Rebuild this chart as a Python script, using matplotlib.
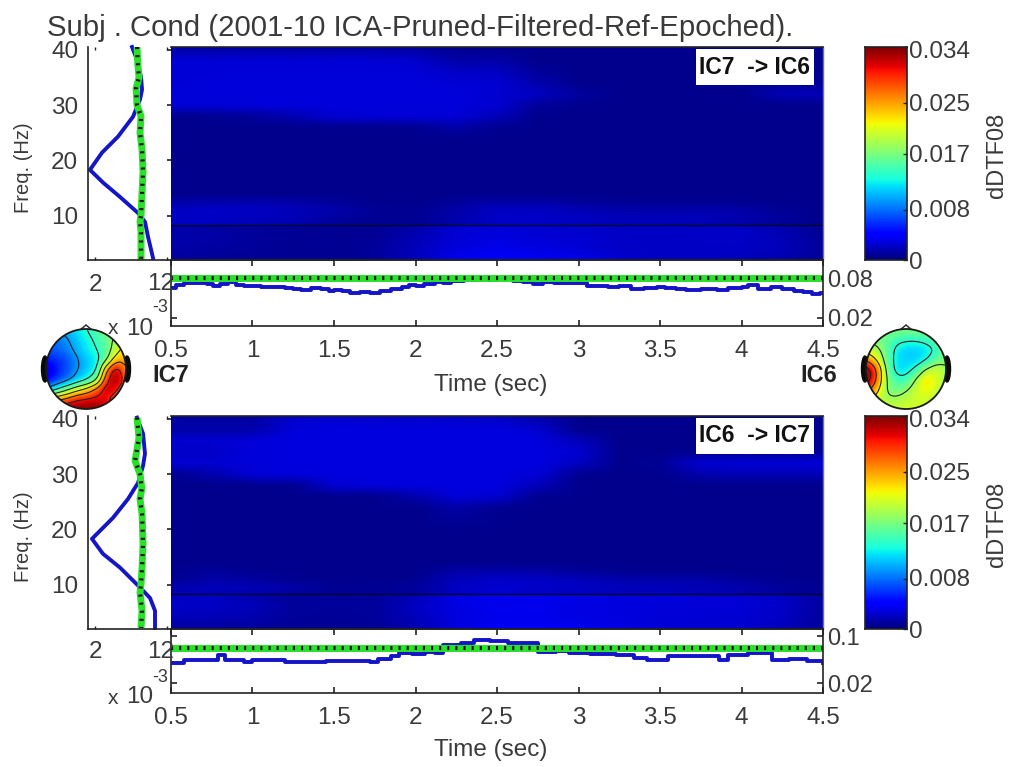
import numpy as np
import matplotlib
matplotlib.use("Agg")
import matplotlib.pyplot as plt
from matplotlib.patches import Circle, Ellipse, Polygon, Rectangle

W, H = 1012, 767
plt.rcParams['font.family'] = ['Liberation Sans', 'DejaVu Sans']
TXT = '#3a3a3a'
AX = '#222222'

# ---------- data ----------
times = [0.5, 0.75, 1, 1.25, 1.5, 1.75, 2, 2.25, 2.5, 2.75, 3, 3.25, 3.5, 3.75, 4, 4.25, 4.5]
freqs = [2, 4, 6, 8.2, 8.4, 9.5, 11, 12.5, 14, 20, 24, 26, 28, 30, 32, 34, 36, 38, 40.5]
# dDTF08 values in units of 1e-4; rows = freqs, columns = times
tf_top = [
 [8, 7, 7, 6, 6, 8, 18, 34, 38, 36, 32, 24, 20, 20, 18, 14, 7],
 [12, 10, 8, 6, 6, 9, 18, 28, 32, 30, 26, 22, 20, 20, 20, 18, 8],
 [14, 12, 8, 7, 6, 7, 16, 26, 28, 26, 24, 22, 20, 22, 22, 17, 7],
 [12, 10, 9, 7, 6, 6, 12, 24, 26, 24, 22, 20, 20, 20, 20, 14, 6],
 [20, 20, 18, 14, 8, 6, 6, 14, 20, 20, 18, 16, 16, 15, 12, 7, 4],
 [20, 20, 18, 16, 10, 6, 6, 14, 22, 22, 20, 18, 18, 18, 14, 8, 4],
 [20, 22, 20, 18, 14, 7, 6, 12, 20, 20, 17, 14, 13, 14, 12, 7, 4],
 [13, 14, 14, 12, 8, 5, 5, 8, 12, 12, 9, 7, 6, 6, 6, 4, 4],
 [4, 4, 4, 4, 4, 4, 4, 4, 4, 4, 4, 4, 4, 4, 4, 4, 4],
 [4, 4, 4, 4, 4, 4, 4, 4, 4, 4, 4, 4, 4, 4, 4, 4, 4],
 [4, 4, 4, 4, 4, 4, 4, 4, 4, 4, 4, 4, 4, 4, 4, 4, 4],
 [4, 4, 4, 4, 4, 5, 6, 12, 6, 4, 4, 4, 4, 4, 4, 4, 4],
 [5, 6, 8, 15, 24, 26, 26, 26, 18, 5, 4, 4, 4, 4, 4, 4, 4],
 [26, 26, 27, 27, 27, 27, 27, 27, 24, 8, 4, 4, 4, 4, 4, 5, 5],
 [27, 27, 27, 27, 27, 27, 27, 27, 25, 20, 10, 4, 4, 4, 5, 16, 18],
 [26, 27, 27, 27, 27, 27, 27, 26, 24, 14, 5, 4, 4, 4, 4, 6, 7],
 [26, 26, 26, 26, 26, 26, 26, 22, 20, 8, 5, 4, 4, 4, 4, 5, 6],
 [26, 26, 26, 26, 26, 26, 23, 12, 12, 5, 5, 5, 5, 5, 5, 5, 5],
 [10, 10, 10, 10, 10, 10, 9, 5, 5, 4, 4, 4, 4, 4, 4, 4, 5],
]
tf_bot = [
 [8, 8, 8, 6, 6, 7, 14, 28, 36, 36, 34, 30, 26, 24, 24, 18, 9],
 [16, 16, 14, 8, 7, 8, 18, 28, 32, 32, 30, 28, 26, 26, 24, 20, 9],
 [22, 20, 18, 9, 8, 9, 20, 30, 32, 32, 30, 28, 27, 26, 26, 22, 10],
 [20, 20, 14, 9, 8, 9, 16, 30, 32, 32, 30, 28, 27, 26, 24, 20, 10],
 [14, 18, 14, 10, 6, 6, 8, 20, 24, 22, 20, 18, 18, 16, 14, 9, 6],
 [14, 18, 16, 12, 6, 6, 8, 20, 24, 22, 20, 18, 18, 16, 14, 9, 6],
 [6, 12, 10, 6, 5, 5, 6, 18, 22, 20, 18, 14, 13, 12, 9, 6, 4],
 [4, 9, 6, 4, 4, 4, 5, 12, 14, 12, 8, 6, 5, 4, 4, 4, 4],
 [4, 4, 4, 4, 4, 4, 4, 4, 4, 4, 4, 4, 4, 4, 4, 4, 4],
 [5, 5, 5, 5, 5, 5, 5, 5, 5, 5, 5, 5, 5, 5, 5, 5, 5],
 [5, 5, 5, 5, 5, 5, 5, 12, 6, 5, 5, 5, 5, 5, 5, 5, 5],
 [5, 5, 5, 5, 5, 5, 14, 27, 24, 6, 5, 5, 5, 5, 5, 5, 5],
 [5, 5, 5, 6, 24, 27, 28, 28, 28, 18, 5, 5, 5, 5, 5, 5, 5],
 [6, 14, 26, 27, 28, 28, 28, 28, 28, 26, 6, 5, 5, 14, 16, 16, 16],
 [24, 24, 27, 28, 28, 28, 28, 28, 28, 28, 20, 5, 7, 24, 26, 26, 26],
 [22, 22, 27, 28, 28, 28, 28, 28, 28, 28, 24, 5, 5, 6, 7, 7, 8],
 [24, 24, 27, 28, 28, 28, 28, 28, 28, 28, 18, 5, 5, 5, 5, 5, 6],
 [12, 12, 14, 27, 28, 28, 28, 28, 28, 24, 6, 5, 5, 5, 5, 5, 6],
 [10, 10, 10, 22, 24, 22, 22, 22, 20, 12, 5, 4, 4, 4, 4, 4, 6],
]
cb_ticks = [0, 0.008, 0.017, 0.025, 0.034]

# left marginals (x 1e-3)
spec_top_f = [40.5, 38.2, 35.1, 32.8, 31, 27.9, 24.3, 21.4, 18.3, 16, 13.4, 10.5, 8.9, 6.2, 2.4]
spec_top_v = [7.14, 7.83, 8.39, 8.53, 8.25, 7.28, 5.19, 2.97, 1.3, 3.11, 5.47, 7.97, 8.94, 9.36, 10.05]
base_top_f = [40.5, 37, 35, 33, 30, 28, 25, 22, 18, 14, 10, 9, 7, 2]
base_top_v = [7.83, 7.97, 8.11, 7.7, 7.83, 8.39, 8.25, 8.53, 8.67, 8.53, 8.39, 8.25, 8.39, 8.39]
spec_bot_f = [40.2, 37.3, 33.7, 31.5, 28.4, 25.5, 22.1, 18.3, 15.6, 13.1, 9.5, 7.6, 5.3, 2.2]
spec_bot_v = [7.83, 8.67, 8.94, 8.67, 7.97, 6.58, 4.5, 1.58, 3.1, 5.47, 8.25, 9.64, 10.33, 10.33]
base_bot_f = [40.2, 36.6, 32.4, 30, 27.4, 25.5, 22.8, 17.4, 13, 10.2, 8.6, 5.3, 2.2]
base_bot_v = [7.83, 8.11, 7.56, 8.25, 8.5, 8.25, 8.53, 8.67, 8.53, 8.39, 8.25, 8.53, 8.39]

# lower marginals
erp_top_t = [.5, .53, .58, .66, .72, .76, .8, .85, .9, .95, 1.05, 1.1, 1.2, 1.25, 1.3, 1.36, 1.42, 1.47, 1.5, 1.55,
             1.6, 1.66, 1.72, 1.78, 1.85, 1.92, 1.96, 2.0, 2.05, 2.12, 2.17, 2.22, 2.3, 2.38, 2.45, 2.5, 2.56, 2.6,
             2.66, 2.72, 2.78, 2.85, 2.92, 3.0, 3.05, 3.12, 3.18, 3.25, 3.32, 3.4, 3.48, 3.53, 3.6, 3.66, 3.75, 3.85,
             3.92, 4.0, 4.04, 4.1, 4.18, 4.25, 4.32, 4.38, 4.43, 4.48, 4.5]
erp_top_v = [.065, .07, .073, .0735, .071, .069, .072, .075, .07, .068, .0665, .0665, .066, .064, .0625, .0655, .064,
             .06, .0625, .061, .058, .059, .057, .06, .064, .067, .07, .068, .072, .075, .073, .076, .077, .079, .0775,
             .079, .08, .076, .074, .0715, .074, .0725, .0735, .073, .069, .068, .067, .069, .064, .065, .067, .066,
             .064, .062, .0635, .0625, .065, .0665, .07, .064, .067, .064, .061, .059, .056, .057, .057]
erp_bot_t = [.5, .58, .66, .74, .79, .83, .95, 1.0, 1.1, 1.2, 1.35, 1.45, 1.53, 1.64, 1.72, 1.77, 1.85, 1.9, 1.98,
             2.06, 2.12, 2.17, 2.28, 2.36, 2.46, 2.57, 2.68, 2.75, 2.86, 2.94, 3.07, 3.23, 3.34, 3.42, 3.55, 3.74,
             3.86, 3.92, 4.04, 4.19, 4.29, 4.4, 4.5]
erp_bot_v = [.0535, .059, .06, .059, .0677, .059, .055, .059, .059, .056, .056, .0575, .0575, .0575, .055, .0615, .0655,
             .071, .069, .072, .0715, .085, .089, .0935, .0917, .089, .0875, .0733, .075, .0705, .0693, .0677, .062,
             .059, .0665, .0665, .059, .0677, .0717, .06, .0615, .0575, .0547]
base_line_t = [0.5, 4.5]
base_top_erp = [0.08, 0.08]
base_bot_erp = [0.0795, 0.0795]

# scalp maps, fraction of the colour range, top row = front of head
scalp_ic7 = [
 [.3, .3, .3, .35, .4, .45, .5, .5, .5],
 [.22, .24, .27, .32, .37, .42, .47, .55, .6],
 [.2, .22, .25, .3, .35, .4, .45, .6, .7],
 [.15, .17, .2, .27, .32, .36, .5, .72, .72],
 [.05, .15, .2, .27, .32, .38, .75, .95, .75],
 [.12, .18, .24, .32, .38, .5, .85, 1.0, .8],
 [.3, .4, .5, .6, .68, .8, .95, .9, .75],
 [.7, .75, .8, .88, .9, .92, .9, .8, .7],
 [.9, .95, 1, 1, 1, 1, .95, .85, .8],
]
scalp_ic6 = [
 [.5, .5, .5, .5, .5, .5, .5, .5, .5],
 [.5, .5, .47, .42, .4, .4, .42, .47, .5],
 [.6, .55, .47, .36, .33, .33, .35, .4, .5],
 [.78, .65, .47, .35, .33, .33, .38, .47, .5],
 [1, .8, .5, .35, .35, .42, .55, .6, .55],
 [1, .8, .52, .42, .42, .55, .68, .62, .55],
 [.85, .7, .52, .48, .52, .6, .65, .6, .55],
 [.7, .6, .55, .55, .58, .6, .6, .58, .55],
 [.6, .6, .6, .6, .6, .6, .6, .6, .6],
]
levels_ic7 = [.28, .4, .52, .64, .76, .88]
levels_ic6 = [.39, .53, .66, .8, .92]

# ---------- helpers ----------
fig = plt.figure(figsize=(W / 100, H / 100), dpi=100, facecolor='white')


def pax(x0, y0, x1, y1, **kw):
    return fig.add_axes([x0 / W, 1 - y1 / H, (x1 - x0) / W, (y1 - y0) / H], **kw)


def ptext(x, y, s, size=17.5, ha='center', va='center', **kw):
    kw.setdefault('color', TXT)
    fig.text(x / W, 1 - y / H, s, fontsize=size, ha=ha, va=va, **kw)


def style(ax):
    for s in ax.spines.values():
        s.set_color(AX)
        s.set_linewidth(1.2)


GREEN = '#2be02b'
BLUE = '#1414c8'
dash = (0, (0.5, 1.45))


# ---------- panels ----------
def panel(y_top, y_bot, tf, box_text, spec_f, spec_v, base_f, base_v,
          erp_y0, erp_y1, erp_t, erp_v, base_erp, ylim_erp, yticks_erp, yl_erp, y_time, y_freq):
    a = pax(171, y_top, 823, y_bot)
    Z = np.array(tf) * 1e-4
    a.pcolormesh(times, freqs, Z, shading='gouraud', cmap='jet', vmin=0, vmax=0.034, rasterized=True)
    a.axhline(8.3, color='#050530', lw=1)
    a.set_xlim(0.5, 4.5)
    a.set_ylim(2.0, 40.5)
    a.set_xticks([])
    a.set_yticks([10, 20, 30, 40])
    a.set_yticklabels([])
    a.tick_params(axis='y', direction='out', length=3, width=1.2, color=AX, pad=2)
    style(a)
    a.spines['right'].set_color('#7070a8')
    a.spines['right'].set_linewidth(1)
    a.spines['left'].set_visible(False)
    a.add_patch(Rectangle((696, H - (y_top + 38)), 118, 36, transform=None, facecolor='white', edgecolor='none', zorder=5))
    ptext(755, y_top + 20, box_text, size=16.5, color='#111111', fontweight='bold', zorder=6)

    # left marginal
    m = pax(88, y_top, 171, y_bot)
    m.patch.set_alpha(0)
    m.plot(spec_v, spec_f, color=BLUE, lw=2.8, solid_joinstyle='round', clip_on=False)
    m.plot(base_v, base_f, color=GREEN, lw=5, solid_capstyle='butt')
    m.plot(base_v, base_f, color='#101010', lw=3, linestyle=dash, dash_capstyle='butt')
    m.set_xlim(1.03, 12.55)
    m.set_ylim(2.0, 40.5)
    m.set_yticks([10, 20, 30, 40])
    m.set_yticklabels(['10', '20', '30', '40'], fontsize=17.5, color=TXT)
    m.set_xticks([2, 12])
    m.set_xticklabels([])
    m.tick_params(axis='y', length=0, pad=7)
    m.tick_params(axis='x', direction='in', length=2, width=1, color=AX, top=True)
    style(m)
    m.spines['top'].set_visible(False)
    m.spines['right'].set_visible(False)
    ptext(24, y_freq, 'Freq. (Hz)', size=14.5, rotation=90)

    # lower marginal
    e = pax(171, erp_y0, 823, erp_y1)
    e.patch.set_alpha(0)
    e.plot(erp_t, erp_v, color=BLUE, lw=2.8, drawstyle='steps-post')
    e.plot(base_line_t, base_erp, color=GREEN, lw=5, solid_capstyle='butt')
    e.plot(base_line_t, base_erp, color='#101010', lw=3, linestyle=dash, dash_capstyle='butt')
    e.set_xlim(0.5, 4.5)
    e.set_ylim(*ylim_erp)
    e.set_xticks([0.5, 1, 1.5, 2, 2.5, 3, 3.5, 4, 4.5])
    e.set_xticklabels(['0.5', '1', '1.5', '2', '2.5', '3', '3.5', '4', '4.5'], fontsize=17.5, color=TXT)
    e.set_yticks(yticks_erp)
    e.set_yticklabels(yl_erp, fontsize=17, color=TXT)
    e.yaxis.tick_right()
    e.tick_params(axis='both', direction='in', length=4, width=1.2, color=AX, top=True, left=True, right=True, pad=3)
    e.tick_params(axis='x', pad=10)
    style(e)
    ptext(491, y_time, 'Time (sec)', size=17.5)

    # colourbar
    c = pax(865, y_top, 907, y_bot)
    grad = np.linspace(0, 0.034, 128)[:, None]
    c.imshow(grad, aspect='auto', origin='lower', cmap='jet', vmin=0, vmax=0.034, extent=[0, 1, 0, 0.034])
    c.set_xticks([])
    c.set_yticks(cb_ticks)
    c.set_yticklabels([])
    c.yaxis.tick_right()
    c.tick_params(axis='y', direction='in', length=3, width=1, color=AX)
    style(c)
    for t, oy in zip(cb_ticks, [3, 1, 3, 2, 5]):
        py = y_bot - t / 0.034 * (y_bot - y_top) + oy
        ptext(909, py, f'{t:g}' if t else '0', ha='left')
    ptext(997, (y_top + y_bot) / 2 + 2, 'dDTF08', size=17, rotation=90)


panel(47, 260, tf_top, 'IC7  -> IC6', spec_top_f, spec_top_v, base_top_f, base_top_v,
      260, 326, erp_top_t, erp_top_v, base_top_erp, (0.0077, 0.1077), [0.02, 0.08], ['0.02', '0.08'], 385, 168)
panel(416, 629, tf_bot, 'IC6  -> IC7', spec_bot_f, spec_bot_v, base_bot_f, base_bot_v,
      629, 693, erp_bot_t, erp_bot_v, base_bot_erp, (0.003, 0.112), [0.02, 0.1], ['0.02', '0.1'], 750, 537)

# stray marginal labels
ptext(96, 285, '2')
ptext(161, 284, '12')
ptext(160, 308, '-3', size=13)
ptext(140, 329, '10')
ptext(113, 329, 'x', size=15)
ptext(96, 652, '2')
ptext(161, 652, '12')
ptext(160, 677, '-3', size=13)
ptext(140, 697, '10')
ptext(113, 698, 'x', size=15)


def refine(grid, n=8):
    Z = np.array(grid, float)
    src = np.arange(Z.shape[0])
    dst = np.linspace(0, Z.shape[0] - 1, (Z.shape[0] - 1) * n + 1)
    Z = np.array([np.interp(dst, src, row) for row in Z])
    Z = np.array([np.interp(dst, src, col) for col in Z.T]).T
    k = np.ones(n) / n
    pad = np.pad(Z, n, mode='edge')
    pad = np.apply_along_axis(lambda v: np.convolve(v, k, mode='same'), 0, pad)
    pad = np.apply_along_axis(lambda v: np.convolve(v, k, mode='same'), 1, pad)
    return pad[n:-n, n:-n]


# scalp maps
def scalp(cx, cy, grid, levels):
    s = 46
    a = pax(cx - s, cy - s, cx + s, cy + s)
    a.set_xlim(-s, s)
    a.set_ylim(-s, s)
    a.axis('off')
    a.patch.set_alpha(0)
    r = 40
    a.add_patch(Ellipse((-r - 1, 0), 7, 26, color='#0a0a0a', zorder=1))
    a.add_patch(Ellipse((r + 1, 0), 7, 26, color='#0a0a0a', zorder=1))
    a.add_patch(Polygon([(-6, r - 1), (0, r + 4), (6, r - 1)], closed=True, facecolor='white', edgecolor='#222222', lw=1, zorder=1))
    Z = refine(grid)
    im = a.imshow(Z, extent=[-r, r, -r, r], origin='upper', cmap='jet', vmin=0, vmax=1, interpolation='bilinear', zorder=2)
    clip = Circle((0, 0), r, transform=a.transData)
    im.set_clip_path(clip)
    xs = np.linspace(-r, r, Z.shape[1])
    ys = np.linspace(r, -r, Z.shape[0])
    cs = a.contour(xs, ys, Z, levels=levels, colors='#222222', linewidths=0.8, zorder=3)
    cs.set_clip_path(clip)
    a.add_patch(Circle((0, 0), r, facecolor='none', edgecolor='#1a1a1a', lw=1.3, zorder=4))
    a.set_xlim(-s, s)
    a.set_ylim(-s, s)


scalp(86, 369, scalp_ic7, levels_ic7)
scalp(906, 369, scalp_ic6, levels_ic6)

ptext(171, 375, 'IC7', size=17, color='#222222', fontweight='bold')
ptext(819, 375, 'IC6', size=17, color='#222222', fontweight='bold')

# title
ptext(47, 28, 'Subj . Cond (2001-10 ICA-Pruned-Filtered-Ref-Epoched).', size=21.2, ha='left')

fig.savefig('out.png', dpi=100, facecolor='white')
